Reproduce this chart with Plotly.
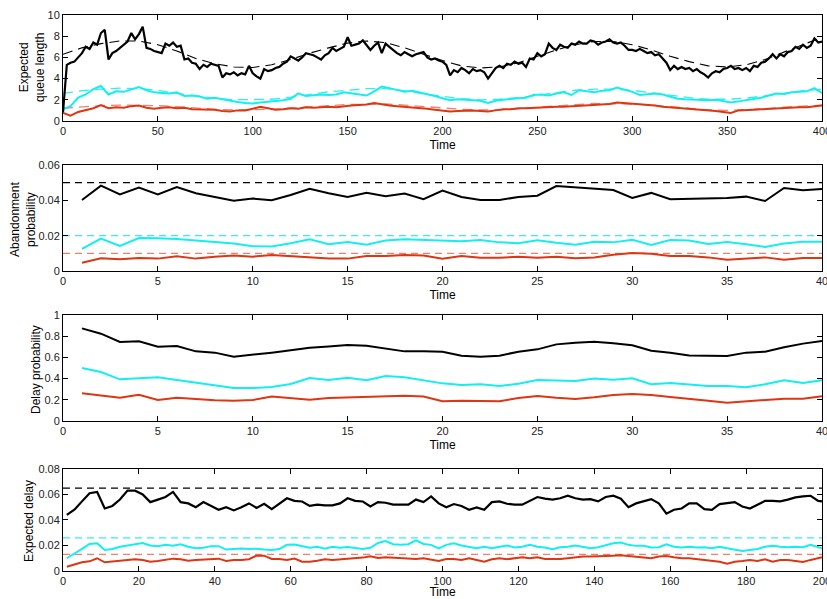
import plotly.graph_objects as go

# ---------------- Panel 1: expected queue length over time ----------------
t_queue = list(range(0, 401, 2))
queue_black = [
    0.8, 5.3, 5.5, 5.6, 6.0, 6.4, 7.0, 6.8, 7.4, 7.2, 8.3, 8.6, 5.8, 6.4, 6.6, 6.9, 7.2, 7.5, 8.3, 7.7,
    8.2, 8.9, 6.9, 6.8, 6.6, 6.5, 6.4, 7.3, 7.1, 7.4, 7.0, 7.1, 5.8, 5.9, 5.5, 5.4, 4.9, 5.3, 5.1, 5.4,
    5.3, 5.2, 4.1, 4.5, 4.4, 4.6, 4.3, 4.5, 4.4, 5.2,
    4.5, 4.2, 4.0, 4.9, 4.7, 4.8, 5.0, 5.1, 5.4, 5.6, 6.1, 5.9, 5.7, 6.0, 6.4, 6.3, 6.2, 6.0, 5.8, 6.2,
    6.4, 6.9, 6.6, 6.8, 7.0, 7.9, 7.1, 7.2, 7.3, 7.6, 7.2, 6.7, 7.1, 7.4, 6.4, 7.3, 7.0, 6.7, 6.4, 6.2,
    6.5, 6.3, 6.1, 6.3, 6.4, 6.5, 6.0, 5.8, 5.9, 5.7,
    5.6, 5.3, 4.3, 4.8, 4.6, 5.0, 4.8, 4.5, 4.9, 4.7, 4.8, 4.6, 4.0, 4.5, 5.0, 5.2, 5.0, 5.4, 5.3, 5.6,
    5.4, 5.5, 5.1, 5.9, 5.8, 6.4, 6.1, 6.3, 7.3, 6.9, 6.7, 7.2, 7.0, 6.9, 7.3, 7.2, 7.5, 7.3, 7.3, 7.6,
    7.5, 7.2, 7.4, 7.5, 7.7, 7.4, 7.3, 7.4, 7.1, 6.7,
    6.7, 6.6, 6.8, 6.6, 6.4, 6.5, 6.2, 6.3, 5.9, 5.5, 4.8, 5.2, 4.9, 5.1, 4.9, 5.0, 4.7, 4.9, 4.6, 4.4,
    4.1, 4.5, 4.7, 4.6, 4.9, 5.0, 5.2, 4.9, 5.0, 4.8, 5.0, 4.7, 5.2, 5.1, 5.5, 5.6, 5.9, 6.3, 5.9, 6.3,
    6.1, 6.5, 6.6, 7.0, 6.8, 7.2, 6.9, 7.1, 7.8, 7.4, 7.5,
]

t_queue4 = list(range(0, 401, 4))
queue_cyan = [
    1.1, 1.4, 2.2, 2.5, 3.0, 3.3, 2.5, 2.8, 2.75, 3.0, 3.2, 2.9, 2.7, 2.65, 2.6, 2.7, 2.35, 2.4, 2.3, 2.1,
    2.2, 2.05, 1.9, 1.8, 1.7, 1.65, 1.75, 1.8, 1.85, 1.95, 2.1, 2.6, 2.35, 2.4, 2.5, 2.45, 2.5, 2.7, 2.6, 2.55,
    2.4, 2.8, 3.25, 3.1, 2.95, 2.75, 2.85, 2.7, 2.55, 2.35, 2.15, 1.95, 2.05, 2.0, 2.0, 1.9, 1.7, 1.9, 2.0, 2.1,
    2.15, 2.2, 2.45, 2.5, 2.4, 2.6, 2.7, 2.45, 2.9, 2.8, 2.7, 2.85, 2.9, 3.15, 2.95, 2.75, 2.45, 2.55, 2.6, 2.5,
    2.3, 2.1, 2.05, 2.0, 1.95, 1.95, 2.0, 1.85, 1.75, 1.85, 1.95, 2.1, 2.2, 2.4, 2.6, 2.55, 2.7, 2.75, 2.8, 3.1,
    2.65,
]
queue_red = [
    0.75, 0.5, 0.85, 1.0, 1.2, 1.5, 1.2, 1.3, 1.25, 1.4, 1.45, 1.25, 1.15, 1.25, 1.3, 1.2, 1.25, 1.1, 1.1, 1.1,
    1.05, 0.95, 0.9, 1.0, 1.0, 1.15, 1.35, 1.2, 1.05, 1.1, 1.2, 1.15, 1.3, 1.25, 1.3, 1.35, 1.3, 1.4, 1.45, 1.5,
    1.55, 1.7, 1.55, 1.45, 1.4, 1.35, 1.3, 1.25, 1.15, 1.05, 1.0, 0.9, 0.95, 1.0, 1.0, 0.95, 0.9, 1.0, 1.1, 1.1,
    1.2, 1.2, 1.25, 1.25, 1.3, 1.35, 1.35, 1.4, 1.45, 1.5, 1.5, 1.55, 1.6, 1.75, 1.7, 1.6, 1.55, 1.55, 1.45, 1.35,
    1.3, 1.25, 1.15, 1.15, 1.1, 1.0, 0.95, 0.85, 0.75, 1.0, 1.0, 1.05, 1.1, 1.15, 1.2, 1.25, 1.3, 1.3, 1.3, 1.35,
    1.45,
]

# fluid approximations (dashed)
t_fluid = list(range(0, 401, 10))
fluid_black = [
    6.3, 6.9, 7.3, 7.55, 7.55, 7.2, 6.6, 5.9, 5.4, 5.1, 5.05, 5.3, 5.8, 6.4, 6.9, 7.35, 7.55, 7.4, 6.9, 6.3,
    5.7, 5.2, 5.0, 5.1, 5.5, 6.1, 6.7, 7.2, 7.5, 7.5, 7.2, 6.7, 6.1, 5.6, 5.2, 5.1, 5.3, 5.8, 6.5, 7.2, 7.9,
]
fluid_cyan = [
    2.6, 2.85, 3.0, 3.1, 3.05, 2.9, 2.6, 2.35, 2.15, 2.0, 2.0, 2.05, 2.25, 2.5, 2.75, 2.9, 3.05, 3.05, 2.85, 2.55,
    2.3, 2.1, 2.0, 2.05, 2.2, 2.45, 2.7, 2.9, 3.0, 3.0, 2.9, 2.65, 2.4, 2.2, 2.05, 2.05, 2.15, 2.35, 2.6, 2.85, 3.0,
]
fluid_red = [
    1.2, 1.35, 1.45, 1.5, 1.5, 1.45, 1.35, 1.2, 1.1, 1.05, 1.05, 1.1, 1.2, 1.35, 1.45, 1.55, 1.6, 1.6, 1.5, 1.35,
    1.2, 1.1, 1.05, 1.05, 1.15, 1.3, 1.45, 1.55, 1.65, 1.65, 1.6, 1.5, 1.35, 1.2, 1.05, 1.0, 1.05, 1.15, 1.3, 1.4, 1.5,
]

# ---------------- Panel 2: abandonment probability ----------------
t_period = list(range(1, 41))
aband_black = [
    0.0402, 0.0483, 0.0434, 0.0472, 0.0434, 0.0475, 0.0440, 0.0421, 0.0398, 0.0410,
    0.0400, 0.0430, 0.0466, 0.0440, 0.0419, 0.0443, 0.0423, 0.0438, 0.0406, 0.0455,
    0.0419, 0.0402, 0.0402, 0.0419, 0.0426, 0.0481, 0.0474, 0.0468, 0.0458, 0.0413,
    0.0442, 0.0406, 0.0408, 0.0411, 0.0413, 0.0421, 0.0396, 0.0470, 0.0457, 0.0464,
]
aband_cyan = [
    0.0125, 0.0183, 0.0142, 0.0187, 0.0185, 0.0181, 0.0172, 0.0162, 0.0155, 0.0140,
    0.0138, 0.0157, 0.0179, 0.0151, 0.0164, 0.0149, 0.0172, 0.0179, 0.0175, 0.0175,
    0.0168, 0.0175, 0.0162, 0.0157, 0.0174, 0.0160, 0.0149, 0.0166, 0.0162, 0.0177,
    0.0147, 0.0175, 0.0172, 0.0153, 0.0164, 0.0151, 0.0136, 0.0155, 0.0166, 0.0166,
]
aband_red = [
    0.0047, 0.0072, 0.0066, 0.0074, 0.0070, 0.0083, 0.0070, 0.0081, 0.0087, 0.0081,
    0.0091, 0.0083, 0.0077, 0.0070, 0.0070, 0.0085, 0.0085, 0.0091, 0.0087, 0.0070,
    0.0085, 0.0075, 0.0075, 0.0081, 0.0075, 0.0081, 0.0072, 0.0077, 0.0092, 0.0102,
    0.0098, 0.0085, 0.0085, 0.0077, 0.0064, 0.0072, 0.0077, 0.0064, 0.0074, 0.0074,
]
aband_targets = [0.05, 0.02, 0.01]

# ---------------- Panel 3: delay probability ----------------
delayp_black = [
    0.874, 0.824, 0.745, 0.752, 0.701, 0.708, 0.657, 0.645, 0.607, 0.623,
    0.645, 0.667, 0.692, 0.704, 0.717, 0.711, 0.686, 0.657, 0.657, 0.654,
    0.616, 0.607, 0.616, 0.654, 0.676, 0.723, 0.739, 0.748, 0.733, 0.714,
    0.663, 0.645, 0.619, 0.619, 0.613, 0.645, 0.654, 0.695, 0.730, 0.755,
]
delayp_cyan = [
    0.500, 0.462, 0.393, 0.406, 0.412, 0.387, 0.362, 0.330, 0.311, 0.311,
    0.321, 0.349, 0.406, 0.387, 0.409, 0.384, 0.425, 0.412, 0.387, 0.355,
    0.340, 0.346, 0.330, 0.352, 0.387, 0.380, 0.377, 0.400, 0.390, 0.403,
    0.346, 0.358, 0.346, 0.330, 0.330, 0.318, 0.346, 0.384, 0.358, 0.384,
]
delayp_red = [
    0.261, 0.239, 0.220, 0.248, 0.198, 0.220, 0.208, 0.195, 0.192, 0.198,
    0.230, 0.217, 0.201, 0.217, 0.223, 0.230, 0.236, 0.239, 0.230, 0.186,
    0.192, 0.186, 0.186, 0.217, 0.236, 0.220, 0.208, 0.223, 0.245, 0.255,
    0.245, 0.226, 0.211, 0.192, 0.173, 0.186, 0.204, 0.211, 0.211, 0.233,
]

# ---------------- Panel 4: expected delay ----------------
t_delay = list(range(1, 200, 2)) + [200]
delay_black = [
    0.044, 0.048, 0.0546, 0.061, 0.062, 0.049, 0.051, 0.056, 0.063, 0.063,
    0.060, 0.054, 0.056, 0.058, 0.062, 0.054, 0.053, 0.050, 0.054, 0.051,
    0.048, 0.050, 0.0475, 0.050, 0.053, 0.0495, 0.0527, 0.0485, 0.0525, 0.057,
    0.055, 0.0545, 0.051, 0.052, 0.0515, 0.0515, 0.053, 0.057, 0.055, 0.0545,
    0.0506, 0.054, 0.0535, 0.052, 0.052, 0.052, 0.056, 0.054, 0.0585, 0.053,
    0.050, 0.0525, 0.051, 0.048, 0.0498, 0.048, 0.054, 0.0546, 0.0527, 0.052,
    0.052, 0.055, 0.058, 0.0567, 0.056, 0.057, 0.059, 0.057, 0.056, 0.0564,
    0.0546, 0.058, 0.059, 0.0567, 0.050, 0.053, 0.0546, 0.0564, 0.053, 0.045,
    0.048, 0.049, 0.053, 0.053, 0.0485, 0.048, 0.0525, 0.053, 0.054, 0.0506,
    0.049, 0.052, 0.055, 0.055, 0.0546, 0.056, 0.0577, 0.0585, 0.059, 0.055,
    0.0546,
]
delay_cyan = [
    0.010, 0.0134, 0.0173, 0.0212, 0.0218, 0.0165, 0.0173, 0.019, 0.020, 0.0215,
    0.022, 0.020, 0.0195, 0.0205, 0.0198, 0.021, 0.019, 0.0178, 0.0182, 0.0195,
    0.0195, 0.0168, 0.0172, 0.0176, 0.0173, 0.0175, 0.0168, 0.0165, 0.0172, 0.0205,
    0.0208, 0.0195, 0.0182, 0.019, 0.0175, 0.019, 0.0182, 0.0188, 0.018, 0.0173,
    0.0182, 0.022, 0.0235, 0.021, 0.0205, 0.021, 0.024, 0.0212, 0.0205, 0.0178,
    0.0205, 0.0218, 0.020, 0.019, 0.0178, 0.019, 0.0178, 0.019, 0.020, 0.0184,
    0.019, 0.0205, 0.019, 0.0184, 0.017, 0.0186, 0.019, 0.020, 0.019, 0.0178,
    0.0186, 0.0205, 0.0218, 0.0223, 0.0205, 0.0197, 0.0197, 0.0184, 0.0186, 0.021,
    0.019, 0.0184, 0.019, 0.0184, 0.0186, 0.0178, 0.019, 0.0178, 0.0165, 0.0157,
    0.0165, 0.0173, 0.019, 0.0197, 0.019, 0.0186, 0.019, 0.0186, 0.0205, 0.019,
    0.0178,
]
delay_red = [
    0.0034, 0.0052, 0.0068, 0.0076, 0.010, 0.0068, 0.0073, 0.0079, 0.0087, 0.0092,
    0.0087, 0.0073, 0.0079, 0.0087, 0.0097, 0.0092, 0.0081, 0.0087, 0.0092, 0.0094,
    0.0097, 0.0079, 0.0087, 0.0087, 0.0092, 0.012, 0.012, 0.0094, 0.0094, 0.0087,
    0.0097, 0.0073, 0.0073, 0.0081, 0.0092, 0.0087, 0.0092, 0.0092, 0.0097, 0.0105,
    0.0115, 0.0102, 0.0108, 0.0105, 0.010, 0.0102, 0.0094, 0.010, 0.0087, 0.0079,
    0.0094, 0.0094, 0.0087, 0.010, 0.0087, 0.0073, 0.0092, 0.010, 0.0092, 0.010,
    0.0108, 0.010, 0.0108, 0.0094, 0.0092, 0.0094, 0.010, 0.0108, 0.0113, 0.0113,
    0.0118, 0.0118, 0.012, 0.0123, 0.0118, 0.0113, 0.0108, 0.010, 0.0113, 0.0118,
    0.0108, 0.010, 0.010, 0.0094, 0.0087, 0.0081, 0.0073, 0.0058, 0.0073, 0.0079,
    0.0087, 0.0079, 0.0092, 0.0073, 0.0087, 0.0087, 0.0079, 0.0071, 0.0087, 0.010,
    0.0108,
]
delay_targets = [0.065, 0.026, 0.013]

# ---------------- styling ----------------
BLACK = "#000000"
CYAN = "#14eef0"
RED = "#de3512"
CYAN_D = "#33eef0"
RED_D = "#f0806a"
FONT = "Arial, Liberation Sans, sans-serif"

fig = go.Figure()


def solid(x, y, color, ax, width=2.0):
    fig.add_trace(go.Scatter(x=x, y=y, mode="lines", xaxis="x" + ax, yaxis="y" + ax,
                             line=dict(color=color, width=width), showlegend=False,
                             hoverinfo="skip"))


def dashed(x, y, color, ax, dash, width=1.2):
    fig.add_trace(go.Scatter(x=x, y=y, mode="lines", xaxis="x" + ax, yaxis="y" + ax,
                             line=dict(color=color, width=width, dash=dash), showlegend=False,
                             hoverinfo="skip"))


# panel 1
dashed(t_fluid, fluid_black, BLACK, "", "10px,6px", 1.1)
dashed(t_fluid, fluid_cyan, CYAN_D, "", "10px,6px", 1.3)
dashed(t_fluid, fluid_red, RED_D, "", "10px,6px", 1.3)
solid(t_queue4, queue_red, RED, "")
solid(t_queue4, queue_cyan, CYAN, "")
solid(t_queue, queue_black, BLACK, "", 2.2)

# panel 2
for lvl, col in zip(aband_targets, [BLACK, CYAN_D, RED_D]):
    dashed([0, 40], [lvl, lvl], col, "2", "7px,5px", 1.2)
solid(t_period, aband_red, RED, "2")
solid(t_period, aband_cyan, CYAN, "2")
solid(t_period, aband_black, BLACK, "2")

# panel 3
solid(t_period, delayp_red, RED, "3")
solid(t_period, delayp_cyan, CYAN, "3")
solid(t_period, delayp_black, BLACK, "3")

# panel 4
for lvl, col in zip(delay_targets, [BLACK, CYAN_D, RED_D]):
    dashed([0, 200], [lvl, lvl], col, "4", "7px,5px", 1.2)
solid(t_delay, delay_red, RED, "4")
solid(t_delay, delay_cyan, CYAN, "4")
solid(t_delay, delay_black, BLACK, "4", 2.2)

# axes
axis_common = dict(showline=True, linecolor="black", linewidth=1, mirror="ticks",
                   ticks="inside", ticklen=5, tickcolor="black", tickwidth=1,
                   showgrid=False, zeroline=False, ticklabeloverflow="allow",
                   automargin=False,
                   tickfont=dict(family=FONT, size=11, color="#222222"))

domains = [(0.8094, 1.0), (0.5396, 0.7302), (0.2698, 0.4604), (0.0, 0.1835)]
xranges = [(0, 400, 50), (0, 40, 5), (0, 40, 5), (0, 200, 20)]
yranges = [(0, 10, 2), (0, 0.06, 0.02), (0, 1, 0.2), (0, 0.08, 0.02)]
suffix = ["", "2", "3", "4"]

layout = dict(
    width=827, height=599,
    margin=dict(l=63, r=5, t=15, b=28),
    paper_bgcolor="white", plot_bgcolor="white",
    font=dict(family=FONT, color="black"),
    showlegend=False,
)
for i, s in enumerate(suffix):
    x0, x1, dx = xranges[i]
    y0, y1, dy = yranges[i]
    layout["xaxis" + s] = dict(axis_common, range=[x0, x1], dtick=dx, tick0=0,
                               anchor="y" + s, domain=[0, 1],
                               title=dict(text="Time", font=dict(family=FONT, size=12), standoff=4))
    layout["yaxis" + s] = dict(axis_common, range=[y0, y1], dtick=dy, tick0=0,
                               anchor="x" + s, domain=list(domains[i]))
fig.update_layout(**layout)

# y-axis titles
ytitles = [
    ("Expected<br>queue length", -0.0408, 0.9047),
    ("Abandonment<br>probability", -0.0527, 0.6313),
    ("Delay probability", -0.0356, 0.3633),
    ("Expected delay", -0.0448, 0.0899),
]
for text, xp, yp in ytitles:
    fig.add_annotation(text=text, x=xp, y=yp, xref="paper", yref="paper",
                       xanchor="center", yanchor="middle", textangle=-90, showarrow=False,
                       font=dict(family=FONT, size=12, color="black"))

fig.write_html("out.html")
